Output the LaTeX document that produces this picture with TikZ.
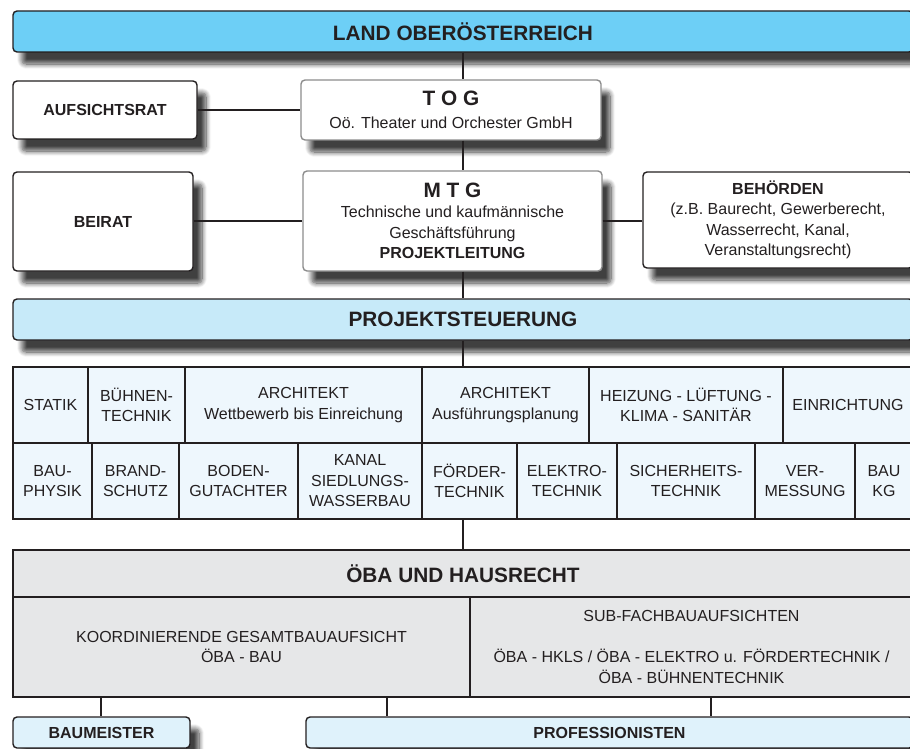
\documentclass[tikz,border=0pt]{standalone}
\usepackage{fontspec}
\setmainfont{Liberation Sans}
\usetikzlibrary{shadows.blur}

\definecolor{textgrau}{HTML}{231F20}
\definecolor{randgrau}{HTML}{8C8C8C}
\definecolor{landblau}{HTML}{6DCFF6}
\definecolor{steuerblau}{HTML}{C7EAF9}
\definecolor{zellblau}{HTML}{EEF7FD}
\definecolor{oebagrau}{HTML}{E6E7E8}
\definecolor{firmenblau}{HTML}{DFF2FB}

\tikzset{
  schatten/.style={blur shadow={shadow xshift=9pt, shadow yshift=-12pt,
      shadow blur radius=5pt, shadow blur steps=10, shadow opacity=75}},
  kasten/.style={draw=textgrau, line width=1.4pt, rounded corners=4pt,
      fill=white, align=center, inner sep=0pt, text=textgrau, schatten,
      font=\fontsize{16}{20.5}\selectfont},
  titelbox/.style={kasten, font=\fontsize{20.8}{24}\selectfont\bfseries},
  zelle/.style={draw=textgrau, line width=1.3pt, fill=zellblau,
      minimum height=76, inner sep=0pt, align=center, text=textgrau,
      font=\fontsize{16}{20.5}\selectfont},
  oebabox/.style={draw=textgrau, line width=1.6pt, fill=oebagrau,
      inner sep=0pt, align=center, text=textgrau,
      font=\fontsize{16}{20.5}\selectfont},
  linie/.style={draw=textgrau, line width=1.8pt}
}

\begin{document}
\begin{tikzpicture}[x=1pt,y=-1pt]
	\useasboundingbox (0,0) rectangle (910,749);
	\clip (0,0) rectangle (910,749);
	\coordinate (achse) at (463,0);
	\coordinate (b1) at (101,0);
	\coordinate (p1) at (387,0);
	\coordinate (p2) at (711,0);

	% Leitung
	\node[titelbox, fill=landblau, minimum width=900, minimum height=41] (land) at (463,31.5) {LAND OBERÖSTERREICH};
	\node[kasten, minimum width=184, minimum height=58] (aufsicht) at (105,110) {\textbf{AUFSICHTSRAT}};
	\node[kasten, draw=randgrau, minimum width=300, minimum height=60] (tog) at (451,110)
		{{\fontsize{20.8}{24}\selectfont\bfseries T O G}\\[3pt] Oö. Theater und Orchester GmbH};
	\node[kasten, minimum width=180, minimum height=99] (beirat) at (103,221.5) {\textbf{BEIRAT}};
	\node[kasten, draw=randgrau, minimum width=299, minimum height=100] (mtg) at (452.5,221)
		{{\fontsize{20.8}{24}\selectfont\bfseries M T G}\\ Technische und kaufmännische\\ Geschäftsführung\\ \textbf{PROJEKTLEITUNG}};
	\node[kasten, minimum width=270, minimum height=96] (behoerden) at (778,220)
		{\textbf{BEHÖRDEN}\\ (z.B. Baurecht, Gewerberecht,\\ Wasserrecht, Kanal,\\ Veranstaltungsrecht)};
	\node[titelbox, fill=steuerblau, minimum width=900, minimum height=41] (steuerung) at (463,319.5) {PROJEKTSTEUERUNG};

	% Planer
	\foreach \l/\r/\t [count=\i] in {13/88/STATIK, 88/185/BÜHNEN-\\TECHNIK,
		185/422/ARCHITEKT\\Wettbewerb bis Einreichung, 422/589/ARCHITEKT\\Ausführungsplanung,
		589/783/HEIZUNG - LÜFTUNG -\\KLIMA - SANITÄR, 783/913/EINRICHTUNG}
		\node[zelle, minimum width=\r-\l] (oben\i) at ({(\l+\r)/2},405) {\t};
	\foreach \l/\r/\t [count=\i] in {13/92/BAU-\\PHYSIK, 92/179/BRAND-\\SCHUTZ,
		179/298/BODEN-\\GUTACHTER, 298/422/KANAL\\SIEDLUNGS-\\WASSERBAU,
		422/517/FÖRDER-\\TECHNIK, 517/617/ELEKTRO-\\TECHNIK, 617/755/SICHERHEITS-\\TECHNIK,
		755/855/VER-\\MESSUNG, 855/913/BAU\\KG}
		\node[zelle, minimum width=\r-\l] (unten\i) at ({(\l+\r)/2},481) {\t};

	% Bauaufsicht
	\node[oebabox, minimum width=900, minimum height=47, font=\fontsize{20.8}{24}\selectfont\bfseries] (oeba) at (463,573.5) {ÖBA UND HAUSRECHT};
	\node[oebabox, minimum width=457, minimum height=100] (oebabau) at (241.5,647)
		{KOORDINIERENDE GESAMTBAUAUFSICHT\\ ÖBA - BAU};
	\node[oebabox, minimum width=443, minimum height=100] (oebafach) at (691.5,647)
		{SUB-FACHBAUAUFSICHTEN\\[20.5pt] ÖBA - HKLS / ÖBA - ELEKTRO u. FÖRDERTECHNIK /\\ ÖBA - BÜHNENTECHNIK};
	\node[kasten, fill=firmenblau, minimum width=177, minimum height=31] (baumeister) at (101.5,732.5) {\textbf{BAUMEISTER}};
	\node[kasten, fill=firmenblau, minimum width=607, minimum height=31] (profis) at (609.5,732.5) {\textbf{PROFESSIONISTEN}};

	% Verbindungen
	\draw[linie] (land.south -| achse) -- (tog.north -| achse);
	\draw[linie] (aufsicht.east) -- (tog.west);
	\draw[linie] (tog.south -| achse) -- (mtg.north -| achse);
	\draw[linie] (beirat.east |- mtg.west) -- (mtg.west);
	\draw[linie] (mtg.east) -- (behoerden.west |- mtg.east);
	\draw[linie] (mtg.south -| achse) -- (steuerung.north -| achse);
	\draw[linie] (steuerung.south -| achse) -- (oben3.north -| achse);
	\draw[linie] (unten5.south -| achse) -- (oeba.north -| achse);
	\draw[linie] (b1 |- oebabau.south) -- (b1 |- baumeister.north);
	\draw[linie] (p1 |- oebabau.south) -- (p1 |- profis.north);
	\draw[linie] (p2 |- oebafach.south) -- (p2 |- profis.north);
\end{tikzpicture}
\end{document}
